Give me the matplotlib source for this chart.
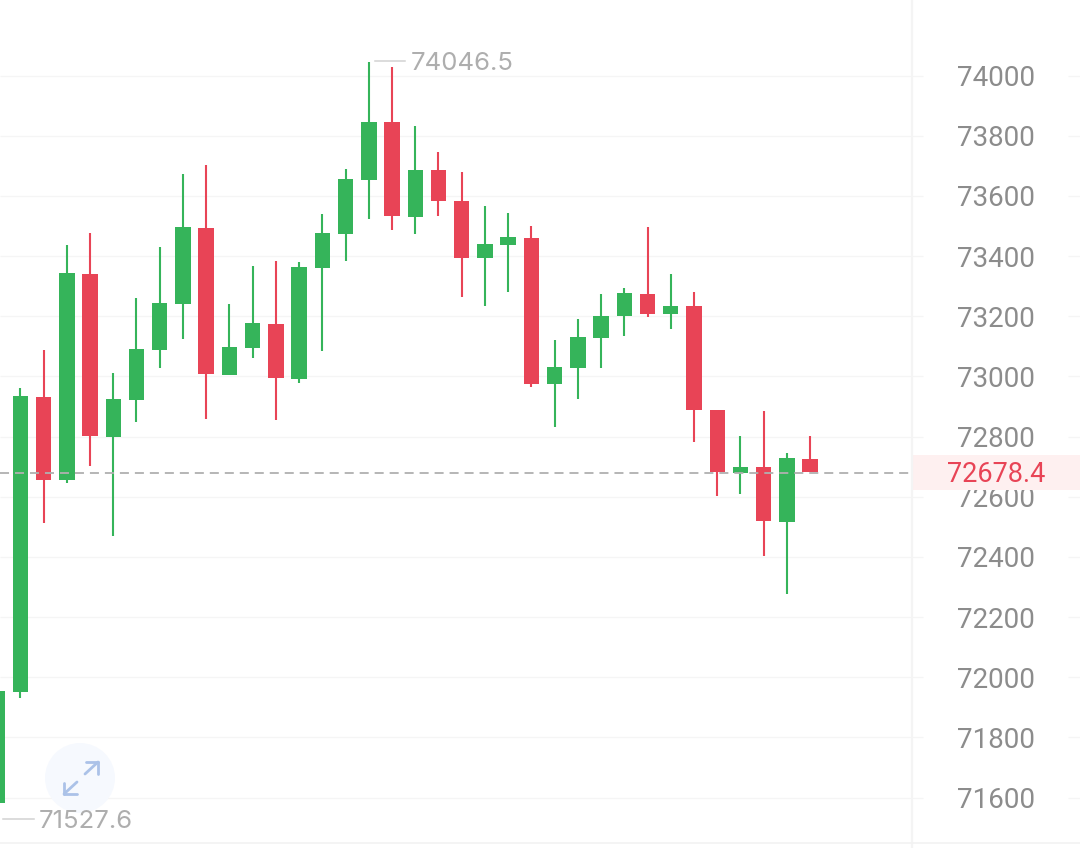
import matplotlib
matplotlib.use("Agg")
import matplotlib.pyplot as plt
from matplotlib.patches import Circle, Rectangle

# Colors
GREEN = "#35b45a"
RED = "#e84456"
GRID = "#f5f5f5"
TICK_TEXT = "#8c8c8c"
MARK_TEXT = "#aeaeae"

# Candle values, oldest first
opens = [71582, 71951, 72932, 72655, 73341, 72799, 72921, 73089, 73242, 73493, 73004, 73094,
         73175, 72992, 73360, 73473, 73653, 73844, 73531, 73685, 73582, 73392, 73437, 73460,
         72974, 73028, 73128, 73201, 73275, 73207, 73234, 72888, 72680, 72698, 72517, 72726]
closes = [71954, 72935, 72655, 73343, 72802, 72924, 73091, 73244, 73495, 73007, 73097, 73177,
          72994, 73363, 73475, 73655, 73845, 73532, 73686, 73583, 73394, 73439, 73462, 72975,
          73030, 73132, 73202, 73276, 73208, 73235, 72889, 72681, 72699, 72519, 72728, 72681]
highs = [71990, 72960, 73088, 73437, 73476, 73010, 73261, 73429, 73672, 73703, 73240, 73368,
         73384, 73379, 73539, 73688, 74046.5, 74029, 73832, 73747, 73679, 73566, 73542, 73499,
         73121, 73190, 73274, 73293, 73495, 73339, 73281, 72888, 72802, 72886, 72746, 72802]
lows = [71527.6, 71931, 72512, 72646, 72702, 72469, 72848, 73028, 73124, 72859, 73004, 73062,
        72856, 72977, 73085, 73382, 73524, 73486, 73472, 73534, 73263, 73235, 73280, 72965,
        72833, 72925, 73027, 73134, 73198, 73157, 72783, 72602, 72609, 72404, 72276, 72681]

y_ticks = [74000, 73800, 73600, 73400, 73200, 73000, 72800, 72600, 72400, 72200, 72000, 71800, 71600]
last_price = 72678.4
max_price = 74046.5
min_price = 71527.6

W, H = 1080, 848
plt.rcParams["font.family"] = ["Roboto", "DejaVu Sans"]

fig = plt.figure(figsize=(W / 100, H / 100), dpi=100)
ax = fig.add_axes([0, 0, 1, 1])
ax.set_xlim(2.9 / 23.23, (W + 2.9) / 23.23)
ax.set_ylim(74251 - 3.324 * H, 74251)
ax.set_axisbelow(True)
for side in ax.spines.values():
    side.set_visible(False)
ax.set_xticks([])

# Price scale on the right, drawn inside the figure
ax.yaxis.tick_right()
ax.set_yticks(y_ticks, [str(v) for v in y_ticks])
ax.tick_params(axis="y", length=0, pad=-88.6, labelsize=20, labelcolor=TICK_TEXT)
for label in ax.get_yticklabels():
    label.set_horizontalalignment("left")

# Grid stops around the scale labels
ytrans = ax.get_yaxis_transform()
ax.hlines(y_ticks, 0, 923 / W, transform=ytrans, color=GRID, lw=1.0, zorder=1)
ax.hlines(y_ticks, 1068 / W, 1, transform=ytrans, color=GRID, lw=1.0, zorder=1)

# Candles
xs = list(range(len(opens)))
colors = [GREEN if c >= o else RED for o, c in zip(opens, closes)]
ax.vlines(xs, lows, highs, colors=colors, lw=1.5, zorder=2)
bottoms = [min(o, c) for o, c in zip(opens, closes)]
heights = [abs(c - o) for o, c in zip(opens, closes)]
ax.bar(xs, heights, bottom=bottoms, width=0.665, color=colors, zorder=2.1)

# Last price line and tag
ax.hlines(last_price, 0, 912 / W, transform=ytrans, color="#b0b0b0", lw=1.3,
          linestyles=(0, (5.0, 3.3)), zorder=2.5)

# Overlay in pixel coordinates for the chart furniture
over = fig.add_axes([0, 0, 1, 1])
over.set_xlim(0, W)
over.set_ylim(H, 0)
over.axis("off")
over.patch.set_alpha(0)

over.add_patch(Rectangle((912, 455), 168, 35, color="#fef0f0", lw=0))
over.plot([912, 912], [0, H], color="#f4f4f4", lw=1.6)
over.plot([0, W], [843, 843], color="#f2f2f2", lw=1.2)
over.text(996, 474, str(last_price), color=RED, fontsize=19.5, ha="center", va="center")

# Max and min markers
over.plot([375, 405], [61, 61], color="#d2d2d2", lw=1.1)
over.text(411, 63, str(max_price), color=MARK_TEXT, fontsize=18.5, ha="left", va="center", family="Inter")
over.plot([3, 34], [819, 819], color="#d2d2d2", lw=1.1)
over.text(39, 821, str(min_price), color=MARK_TEXT, fontsize=18.5, ha="left", va="center", family="Inter")

# Expand button
over.add_patch(Circle((80, 778), 35, color="#f6f9fe", lw=0))
icon = "#abc2e8"
for seg in [([64, 77], [794, 782]), ([64, 64], [794, 783]), ([64, 77], [794, 794]),
            ([85, 98], [774, 762]), ([98, 98], [762, 774]), ([86, 98], [762, 762])]:
    over.plot(seg[0], seg[1], color=icon, lw=2.0, solid_capstyle="round")

fig.savefig("out.png", dpi=100, facecolor="white")
